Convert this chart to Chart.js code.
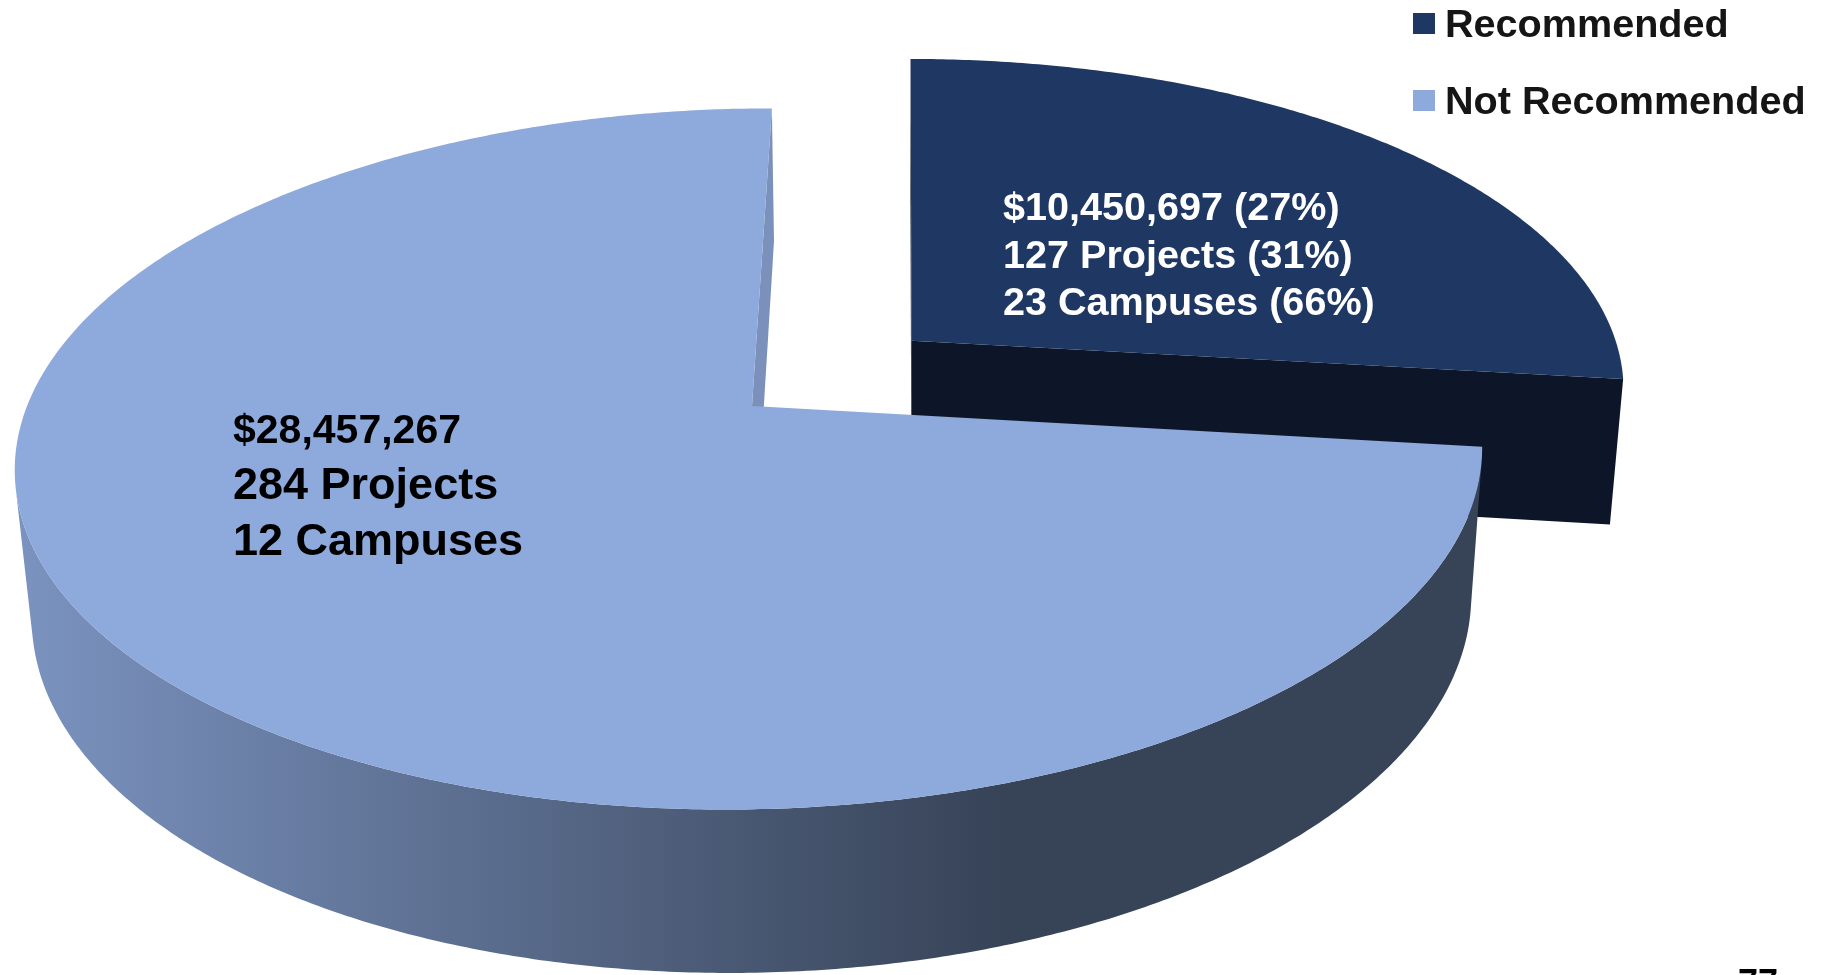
<!DOCTYPE html>
<html>
<head>
<meta charset="utf-8">
<title>Recommended vs Not Recommended</title>
<script src="https://cdn.jsdelivr.net/npm/chart.js@4.4.1/dist/chart.umd.min.js"></script>
<style>
  html, body { margin: 0; padding: 0; background: #fff; }
  #wrap { width: 1838px; height: 975px; }
</style>
</head>
<body>
<div id="wrap"><canvas id="pieChart" width="1838" height="975"></canvas></div>
<script>
const categories = ['Recommended', 'Not Recommended'];
const dollars = [10450697, 28457267];
const projects = [127, 284];
const campuses = [23, 12];
const showShare = [true, false];

const topColors = ['#1f3763', '#8ea9db'];
const faceColors = ['#0c1628', '#7b91bc'];
const wallColors = [['#16264a', '#0c1628'], ['#7b93c0', '#374357']];
const explode = [0.295, 0];

const FONT = "'Liberation Sans', Arial, sans-serif";

// rough camera for the tilted pie
const cam = { cx: 752, cy: 406, f: 4230, d: 5.835, tilt: 28.2 * Math.PI / 180, uc: 0.209, depth: 0.234 };

function project(u, v, h) {
    const sa = Math.sin(cam.tilt), ca = Math.cos(cam.tilt);
    const z = cam.d + v * ca + h * sa;
    const x0 = cam.cx + cam.f * cam.uc / cam.d;
    return [x0 + cam.f * (u - cam.uc) / z, cam.cy + cam.f * (-v * sa + h * ca) / z];
}

function area(pts) {
    let s = 0;
    for (let i = 0; i < pts.length; i++) {
        const a = pts[i], b = pts[(i + 1) % pts.length];
        s += a[0] * b[1] - b[0] * a[1];
    }
    return s;
}

function fillPoly(ctx, pts, style) {
    ctx.beginPath();
    pts.forEach((p, k) => k === 0 ? ctx.moveTo(p[0], p[1]) : ctx.lineTo(p[0], p[1]));
    ctx.closePath();
    ctx.fillStyle = style;
    ctx.fill();
}

function drawSlice(ctx, i, a0, a1) {
    const mid = (a0 + a1) / 2;
    const ou = explode[i] * Math.sin(mid), ov = explode[i] * Math.cos(mid);
    const rim = (t, h) => project(ou + Math.sin(t), ov + Math.cos(t), h);
    const apex = h => project(ou, ov, h);
    const steps = Math.max(8, Math.ceil((a1 - a0) / (Math.PI / 360)));
    const ts = [];
    for (let s = 0; s <= steps; s++) ts.push(a0 + (a1 - a0) * s / steps);

    // outer wall, only the parts facing us
    const runs = [];
    let run = [];
    for (let s = 0; s < steps; s++) {
        const q = [rim(ts[s], 0), rim(ts[s + 1], 0), rim(ts[s + 1], cam.depth), rim(ts[s], cam.depth)];
        if (area(q) < 0) {
            run.push(s);
        } else if (run.length) {
            runs.push(run);
            run = [];
        }
    }
    if (run.length) runs.push(run);
    runs.forEach(r => {
        const first = r[0], last = r[r.length - 1] + 1;
        const pts = [];
        for (let s = first; s <= last; s++) pts.push(rim(ts[s], 0));
        for (let s = last; s >= first; s--) pts.push(rim(ts[s], cam.depth));
        const g = ctx.createLinearGradient(15, 0, 1000, 0);
        g.addColorStop(0, wallColors[i][0]);
        g.addColorStop(1, wallColors[i][1]);
        fillPoly(ctx, pts, g);
    });

    // cut faces
    [[a0, -1], [a1, 1]].forEach(([t, sgn]) => {
        const q = [apex(0), rim(t, 0), rim(t, cam.depth), apex(cam.depth)];
        if (area(q) * sgn > 0) fillPoly(ctx, q, faceColors[i]);
    });

    // top
    const top = [apex(0)];
    ts.forEach(t => top.push(rim(t, 0)));
    fillPoly(ctx, top, topColors[i]);
}

const pie3d = {
    id: 'pie3d',
    beforeDatasetsDraw(chart) {
        const ctx = chart.ctx;
        const meta = chart.getDatasetMeta(0);
        const slices = meta.data.map((el, i) => {
            const p = el.getProps(['startAngle', 'endAngle'], true);
            const a0 = p.startAngle + Math.PI / 2, a1 = p.endAngle + Math.PI / 2;
            return { i, a0, a1, depth: explode[i] * Math.cos((a0 + a1) / 2) };
        });
        slices.sort((a, b) => b.depth - a.depth);
        ctx.save();
        slices.forEach(s => drawSlice(ctx, s.i, s.a0, s.a1));
        ctx.restore();
        return false;
    }
};

function fmtPct(v, arr) {
    const total = arr.reduce((a, b) => a + b, 0);
    return Math.round(v / total * 100) + '%';
}

// x, first baseline, line gap, font sizes per line, colour
const labelPos = [
    [1003, 220, 47.5, [39.6, 39.6, 39.6], '#ffffff'],
    [233, 443, 56, [41, 45, 45], '#000000']
];

const texts = {
    id: 'texts',
    afterDraw(chart) {
        const ctx = chart.ctx;
        ctx.save();
        ctx.textAlign = 'left';
        ctx.textBaseline = 'alphabetic';

        // slice labels
        categories.forEach((c, i) => {
            const [x, y, gap, sizes, color] = labelPos[i];
            let lines = [
                '$' + dollars[i].toLocaleString('en-US'),
                projects[i] + ' Projects',
                campuses[i] + ' Campuses'
            ];
            if (showShare[i]) {
                lines = [
                    lines[0] + ' (' + fmtPct(dollars[i], dollars) + ')',
                    lines[1] + ' (' + fmtPct(projects[i], projects) + ')',
                    lines[2] + ' (' + fmtPct(campuses[i], campuses) + ')'
                ];
            }
            ctx.fillStyle = color;
            lines.forEach((t, k) => {
                ctx.font = 'bold ' + sizes[k] + 'px ' + FONT;
                ctx.fillText(t, x, y + k * gap);
            });
        });

        // legend
        ctx.font = 'bold 39.6px ' + FONT;
        categories.forEach((c, i) => {
            const y = 13 + i * 77;
            ctx.fillStyle = topColors[i];
            ctx.fillRect(1413, y, 22, 21);
            ctx.fillStyle = '#151515';
            ctx.fillText(c, 1445, y + 24);
        });

        // page number
        ctx.font = 'bold 36px ' + FONT;
        ctx.fillStyle = '#000';
        ctx.fillText('77', 1738, 995);
        ctx.restore();
    }
};

new Chart(document.getElementById('pieChart').getContext('2d'), {
    type: 'pie',
    data: {
        labels: categories,
        datasets: [{
            data: dollars,
            backgroundColor: topColors,
            borderWidth: 0
        }]
    },
    options: {
        responsive: false,
        animation: false,
        events: [],
        plugins: {
            legend: { display: false },
            tooltip: { enabled: false }
        }
    },
    plugins: [pie3d, texts]
});
</script>
</body>
</html>
